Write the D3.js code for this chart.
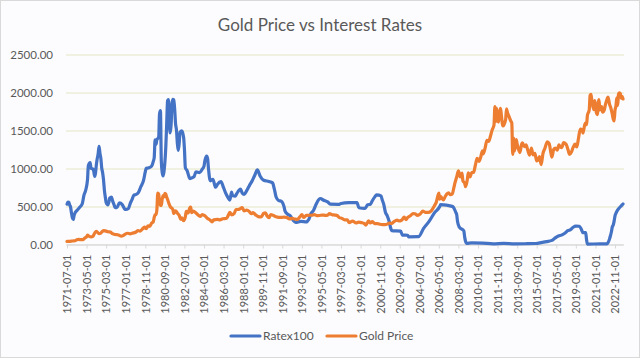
<!DOCTYPE html>
<html>
<script src="https://d3js.org/d3.v7.min.js"></script>
<style>
    body {margin: 0; background: #ffffff;}
    text {font-family: Lato, "Open Sans", sans-serif; fill: #595959;}
</style>
<body>
<div id="chart"></div>
<script>
var chartTitle = "Gold Price vs Interest Rates";
var seriesNames = ["Ratex100", "Gold Price"];
var seriesColors = ["#4472c4", "#ed7d31"];
var yTicks = [0, 500, 1000, 1500, 2000, 2500];
var tickLabels = ["1971-07-01", "1973-05-01", "1975-03-01", "1977-01-01", "1978-11-01", "1980-09-01",
    "1982-07-01", "1984-05-01", "1986-03-01", "1988-01-01", "1989-11-01", "1991-09-01", "1993-07-01",
    "1995-05-01", "1997-03-01", "1999-01-01", "2000-11-01", "2002-09-01", "2004-07-01", "2006-05-01",
    "2008-03-01", "2010-01-01", "2011-11-01", "2013-09-01", "2015-07-01", "2017-05-01", "2019-03-01",
    "2021-01-01", "2022-11-01"];

// fed funds rate x 100
var ratePoints = [["1971-07",531],["1971-08",557],["1971-09",555],["1971-10",520],["1971-11",491],["1971-12",414],
    ["1972-01",350],["1972-02",329],["1972-03",383],["1972-04",417],["1972-06",446],["1972-09",487],["1972-12",533],
    ["1973-02",650],["1973-04",715],["1973-06",849],["1973-07",1040],["1973-09",1078],["1973-10",1001],["1973-12",995],
    ["1974-01",965],["1974-02",897],["1974-03",935],["1974-04",1051],["1974-05",1131],["1974-06",1193],["1974-07",1292],
    ["1974-08",1201],["1974-09",1134],["1974-10",1006],["1974-11",945],["1974-12",853],["1975-01",713],["1975-02",624],
    ["1975-03",554],["1975-05",522],["1975-06",555],["1975-07",610],["1975-09",624],["1975-10",582],["1975-12",520],
    ["1976-01",487],["1976-03",484],["1976-06",548],["1976-09",525],["1976-12",465],["1977-01",461],["1977-04",473],
    ["1977-06",539],["1977-08",590],["1977-10",647],["1977-12",656],["1978-03",679],["1978-06",760],["1978-09",845],
    ["1978-11",958],["1978-12",1003],["1979-03",1009],["1979-06",1029],["1979-08",1094],["1979-09",1143],["1979-10",1377],
    ["1979-11",1318],["1979-12",1378],["1980-02",1413],["1980-03",1719],["1980-04",1761],["1980-05",1098],["1980-06",947],
    ["1980-07",903],["1980-08",961],["1980-09",1087],["1980-10",1281],["1980-11",1585],["1980-12",1890],["1981-01",1908],
    ["1981-02",1593],["1981-03",1470],["1981-04",1572],["1981-05",1852],["1981-06",1910],["1981-07",1904],["1981-08",1782],
    ["1981-09",1587],["1981-10",1508],["1981-11",1331],["1981-12",1237],["1982-01",1322],["1982-02",1478],["1982-04",1494],
    ["1982-06",1415],["1982-07",1259],["1982-08",1012],["1982-10",971],["1982-12",895],["1983-01",868],["1983-04",880],
    ["1983-06",898],["1983-08",956],["1983-12",947],["1984-03",991],["1984-05",1032],["1984-06",1106],["1984-08",1164],
    ["1984-09",1130],["1984-10",999],["1984-12",838],["1985-03",858],["1985-06",753],["1985-08",790],["1985-12",827],
    ["1986-03",748],["1986-05",685],["1986-08",617],["1986-10",585],["1986-12",691],["1987-01",643],["1987-04",636],
    ["1987-06",673],["1987-10",729],["1987-12",677],["1988-02",658],["1988-05",709],["1988-08",775],["1988-11",835],
    ["1989-02",912],["1989-05",981],["1989-08",902],["1989-12",845],["1990-06",829],["1990-10",811],["1990-12",731],
    ["1991-02",625],["1991-05",578],["1991-08",568],["1991-11",494],["1991-12",443],["1992-03",398],["1992-06",376],
    ["1992-09",322],["1992-12",292],["1993-06",304],["1993-12",296],["1994-01",305],["1994-03",334],["1994-05",401],
    ["1994-08",447],["1994-11",529],["1995-02",592],["1995-04",605],["1995-07",585],["1995-12",560],["1996-03",531],
    ["1996-12",529],["1997-03",539],["1997-12",550],["1998-09",551],["1998-11",483],["1999-06",476],["1999-09",522],
    ["1999-12",530],["2000-02",573],["2000-05",627],["2000-07",654],["2000-12",640],["2001-01",598],["2001-03",531],
    ["2001-05",421],["2001-07",377],["2001-09",307],["2001-11",209],["2001-12",182],["2002-10",175],["2002-12",124],
    ["2003-06",122],["2003-07",101],["2004-06",103],["2004-12",216],["2005-06",304],["2005-12",416],["2006-06",499],
    ["2006-07",524],["2007-08",502],["2007-09",494],["2007-12",424],["2008-01",394],["2008-02",298],["2008-04",228],
    ["2008-09",181],["2008-10",97],["2008-11",39],["2008-12",16],["2009-06",21],["2010-06",18],["2011-06",9],
    ["2012-06",16],["2013-06",9],["2014-06",10],["2015-06",13],["2015-12",24],["2016-06",38],["2016-12",54],
    ["2017-03",79],["2017-06",104],["2017-12",130],["2018-03",151],["2018-06",182],["2018-09",195],["2018-12",227],
    ["2019-03",241],["2019-07",240],["2019-09",204],["2019-11",155],["2020-02",158],["2020-03",65],["2020-04",5],
    ["2021-06",8],["2022-02",8],["2022-03",20],["2022-05",77],["2022-06",121],["2022-07",168],["2022-08",233],
    ["2022-09",256],["2022-10",308],["2022-11",378],["2022-12",410],["2023-02",457],["2023-04",483],["2023-06",508],
    ["2023-08",533]];

// gold price in USD
var goldPoints = [["1971-07",41],["1971-10",42],["1972-01",46],["1972-04",49],["1972-06",62],["1972-08",67],["1972-11",63],
    ["1973-01",65],["1973-03",84],["1973-05",102],["1973-06",123],["1973-08",107],["1973-10",100],["1973-12",107],
    ["1974-02",150],["1974-04",172],["1974-07",143],["1974-09",151],["1974-12",183],["1975-02",180],["1975-05",167],
    ["1975-08",163],["1975-10",142],["1976-01",131],["1976-04",128],["1976-08",110],["1976-10",117],["1976-12",134],
    ["1977-03",148],["1977-06",141],["1977-09",150],["1977-12",161],["1978-03",184],["1978-05",176],["1978-08",207],
    ["1978-10",228],["1978-12",207],["1979-02",246],["1979-04",239],["1979-06",279],["1979-08",301],["1979-09",356],
    ["1979-10",392],["1979-11",392],["1979-12",456],["1980-01",675],["1980-02",665],["1980-03",554],["1980-04",517],
    ["1980-05",514],["1980-06",600],["1980-07",645],["1980-08",627],["1980-09",674],["1980-10",661],["1980-11",623],
    ["1980-12",594],["1981-01",557],["1981-03",499],["1981-06",460],["1981-07",409],["1981-09",444],["1981-11",413],
    ["1982-01",384],["1982-03",330],["1982-04",350],["1982-06",315],["1982-08",364],["1982-09",435],["1982-11",414],
    ["1983-01",481],["1983-02",491],["1983-03",420],["1983-05",438],["1983-08",416],["1983-11",382],["1984-01",370],
    ["1984-03",394],["1984-06",378],["1984-09",341],["1984-12",320],["1985-02",299],["1985-04",324],["1985-08",330],
    ["1985-11",325],["1986-02",339],["1986-06",343],["1986-08",376],["1986-10",423],["1986-12",391],["1987-03",409],
    ["1987-05",460],["1987-08",461],["1987-12",486],["1988-02",442],["1988-05",451],["1988-08",432],["1988-10",406],
    ["1988-12",419],["1989-03",390],["1989-06",367],["1989-09",362],["1989-12",409],["1990-02",417],["1990-04",374],
    ["1990-06",352],["1990-08",395],["1990-11",382],["1991-02",364],["1991-05",357],["1991-08",356],["1991-11",360],
    ["1992-02",354],["1992-05",337],["1992-08",343],["1992-11",335],["1993-02",330],["1993-05",367],["1993-07",392],
    ["1993-09",355],["1993-12",383],["1994-03",385],["1994-06",385],["1994-09",392],["1994-12",379],["1995-03",382],
    ["1995-06",387],["1995-09",384],["1995-12",387],["1996-02",405],["1996-05",392],["1996-08",387],["1996-11",378],
    ["1997-01",355],["1997-04",344],["1997-07",324],["1997-10",325],["1997-12",289],["1998-04",308],["1998-08",284],
    ["1998-11",294],["1999-02",288],["1999-05",277],["1999-07",256],["1999-10",311],["1999-12",283],["2000-02",300],
    ["2000-05",275],["2000-08",275],["2000-11",266],["2001-02",262],["2001-04",261],["2001-07",268],["2001-09",283],
    ["2001-12",276],["2002-02",296],["2002-06",322],["2002-08",310],["2002-11",319],["2003-02",359],["2003-04",328],
    ["2003-06",356],["2003-09",379],["2003-12",407],["2004-02",405],["2004-05",384],["2004-08",400],["2004-11",439],
    ["2005-02",423],["2005-05",422],["2005-08",437],["2005-10",470],["2005-12",510],["2006-02",555],["2006-05",676],
    ["2006-06",596],["2006-07",634],["2006-10",586],["2006-12",629],["2007-02",665],["2007-04",679],["2007-06",655],
    ["2007-08",665],["2007-10",754],["2007-11",806],["2008-01",889],["2008-03",968],["2008-05",888],["2008-07",939],
    ["2008-08",839],["2008-10",806],["2008-11",760],["2009-01",858],["2009-02",943],["2009-04",890],["2009-06",946],
    ["2009-08",949],["2009-10",1043],["2009-12",1134],["2010-02",1095],["2010-04",1148],["2010-06",1232],["2010-07",1193],
    ["2010-09",1271],["2010-11",1370],["2011-01",1356],["2011-03",1424],["2011-05",1510],["2011-07",1573],["2011-08",1815],
    ["2011-09",1620],["2011-10",1790],["2011-11",1660],["2011-12",1610],["2012-02",1790],["2012-05",1560],["2012-08",1640],
    ["2012-09",1785],["2012-10",1740],["2012-12",1680],["2013-02",1620],["2013-03",1600],["2013-04",1185],["2013-05",1400],
    ["2013-06",1230],["2013-08",1380],["2013-09",1320],["2013-12",1210],["2014-02",1320],["2014-03",1336],["2014-05",1287],
    ["2014-07",1311],["2014-09",1238],["2014-11",1176],["2015-01",1270],["2015-03",1179],["2015-05",1199],["2015-07",1100],
    ["2015-09",1125],["2015-10",1157],["2015-12",1050],["2016-02",1199],["2016-04",1260],["2016-07",1350],["2016-09",1326],
    ["2016-11",1200],["2016-12",1150],["2017-02",1250],["2017-04",1267],["2017-06",1242],["2017-08",1310],["2017-09",1290],
    ["2017-11",1275],["2017-12",1300],["2018-01",1340],["2018-04",1318],["2018-06",1255],["2018-08",1185],["2018-10",1215],
    ["2018-12",1280],["2019-02",1320],["2019-04",1283],["2019-06",1400],["2019-08",1520],["2019-10",1510],["2019-11",1465],
    ["2020-01",1580],["2020-02",1600],["2020-03",1577],["2020-04",1700],["2020-06",1770],["2020-07",1962],["2020-08",1975],
    ["2020-09",1887],["2020-11",1775],["2020-12",1895],["2021-01",1850],["2021-02",1735],["2021-03",1710],["2021-05",1905],
    ["2021-06",1770],["2021-08",1815],["2021-09",1742],["2021-11",1775],["2021-12",1830],["2022-02",1910],["2022-03",1940],
    ["2022-04",1900],["2022-05",1840],["2022-06",1810],["2022-07",1765],["2022-08",1712],["2022-09",1650],["2022-10",1625],
    ["2022-11",1770],["2022-12",1820],["2023-01",1930],["2023-02",1830],["2023-03",1980],["2023-04",1995],["2023-05",1985],
    ["2023-06",1925],["2023-07",1950],["2023-08",1915]];

var width = 640;
var height = 358;
var plot = {left: 66, right: 624, top: 54.5, bottom: 244.5};

var parseMonth = d3.timeParse("%Y-%m");
var parseDay = d3.timeParse("%Y-%m-%d");

var svg = d3.select("#chart").append("svg")
    .attr("width", width)
    .attr("height", height);

svg.append("rect")
    .attr("x", 0.5).attr("y", 0.5)
    .attr("width", width - 1).attr("height", height - 1)
    .attr("fill", "#fcfcfe")
    .attr("stroke", "#d9d9d9");

var x_scale = d3.scaleTime()
    .domain([parseMonth("1971-07"), parseMonth("2023-08")])
    .range([67, 623]);

var y_scale = d3.scaleLinear()
    .domain([0, 2500])
    .range([plot.bottom, plot.top]);

// gridlines + y labels
var yAxis = svg.append("g")
    .attr("transform", "translate(" + plot.left + ",0)")
    .call(d3.axisLeft(y_scale)
        .tickValues(yTicks)
        .tickFormat(d3.format(".2f"))
        .tickSize(-(plot.right - plot.left))
        .tickPadding(13));
yAxis.select(".domain").remove();
yAxis.selectAll(".tick line")
    .attr("stroke", function(d){ return d == 0 ? "#d9d9d9" : "#e6e6c4"; });
yAxis.selectAll("text")
    .style("font-size", "11.5px")
    .style("font-family", "Lato, sans-serif")
    .attr("fill", "#595959");

// x axis with rotated date labels
var xAxis = svg.append("g")
    .attr("transform", "translate(0," + plot.bottom + ")")
    .call(d3.axisBottom(x_scale)
        .tickValues(tickLabels.map(function(d){ return parseDay(d); }))
        .tickFormat(function(d, i){ return tickLabels[i]; })
        .tickSize(4)
        .tickSizeOuter(0));
xAxis.select(".domain").attr("stroke", "#d9d9d9");
xAxis.selectAll(".tick line").attr("stroke", "#d9d9d9");
xAxis.selectAll("text")
    .attr("transform", "translate(0,10) rotate(-90)")
    .attr("x", 0).attr("y", 0)
    .attr("dy", "0.35em")
    .attr("text-anchor", "end")
    .style("font-size", "11px")
    .style("font-family", "Lato, sans-serif")
    .attr("fill", "#595959");

var line = d3.line()
    .x(function(d){ return x_scale(parseMonth(d[0])); })
    .y(function(d){ return y_scale(d[1]); })
    .curve(d3.curveMonotoneX);

[ratePoints, goldPoints].forEach(function(points, i){
    svg.append("path")
        .datum(points)
        .attr("fill", "none")
        .attr("stroke", seriesColors[i])
        .attr("stroke-width", 3.2)
        .attr("stroke-linejoin", "round")
        .attr("stroke-linecap", "round")
        .attr("d", line);
});

svg.append("text")
    .attr("x", 320)
    .attr("y", 31)
    .attr("text-anchor", "middle")
    .style("font-size", "17px")
    .text(chartTitle);

// legend
var legendX = [231, 327];
seriesNames.forEach(function(name, i){
    var g = svg.append("g").attr("transform", "translate(" + legendX[i] + ",336)");
    g.append("line")
        .attr("x1", 0).attr("x2", 29)
        .attr("stroke", seriesColors[i])
        .attr("stroke-width", 3.2)
        .attr("stroke-linecap", "round");
    g.append("text")
        .attr("x", 32)
        .attr("dy", "0.35em")
        .style("font-size", "12px")
        .text(name);
});
</script>
</body>
</html>
